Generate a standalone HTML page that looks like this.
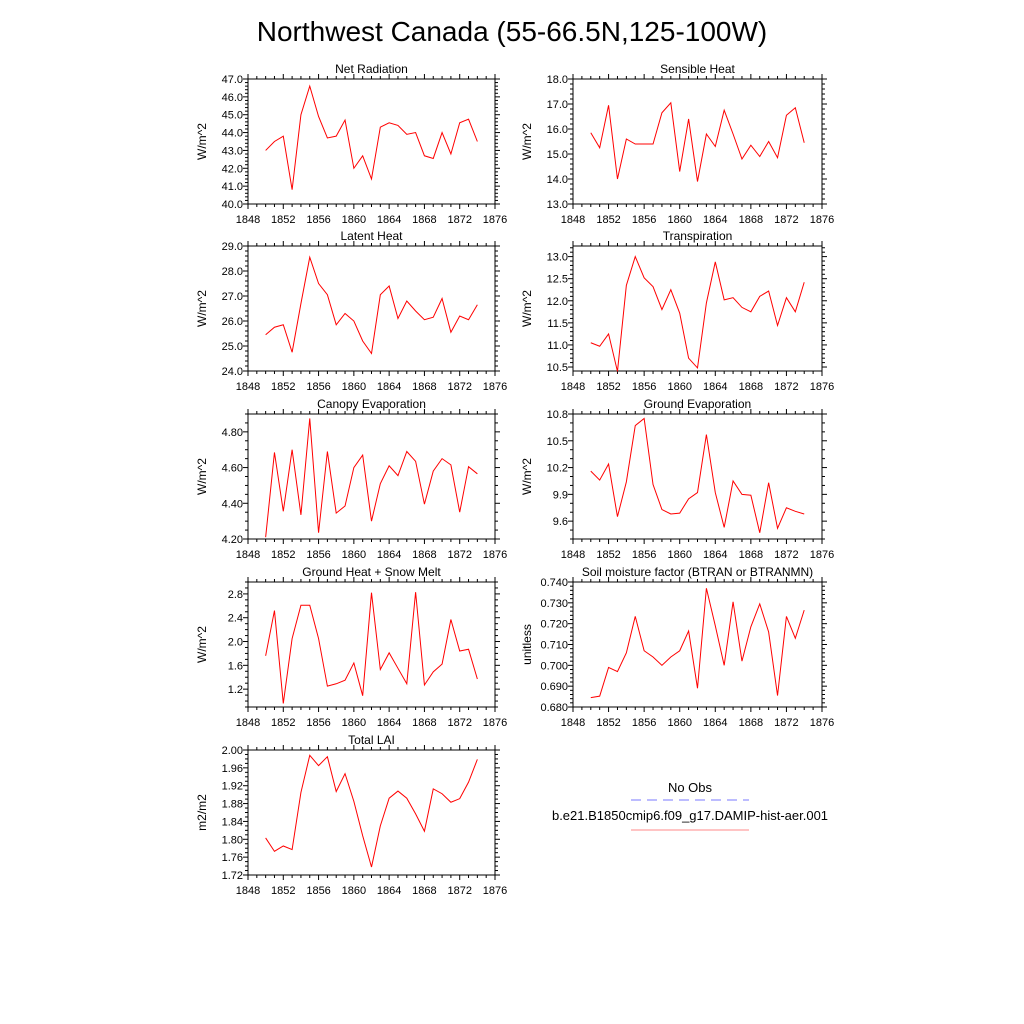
<!DOCTYPE html>
<html><head><meta charset="utf-8"><style>
body{margin:0;background:#fff;}
svg{display:block;font-family:"Liberation Sans",sans-serif;}
</style></head><body>
<svg id="fig" width="1024" height="1024" viewBox="0 0 1024 1024">
<rect width="1024" height="1024" fill="#fff"/>
<text x="512" y="41" font-size="28" text-anchor="middle">Northwest Canada (55-66.5N,125-100W)</text>
<g>
<text x="690" y="792" font-size="13" text-anchor="middle">No Obs</text>
<line x1="631" y1="800" x2="749" y2="800" stroke="#7a7aff" stroke-width="1" stroke-dasharray="10,6"/>
<text x="690" y="820" font-size="13" text-anchor="middle">b.e21.B1850cmip6.f09_g17.DAMIP-hist-aer.001</text>
<line x1="631" y1="830" x2="749" y2="830" stroke="#f88" stroke-width="1"/>
</g>
</svg>
<script>
const years = [1850,1851,1852,1853,1854,1855,1856,1857,1858,1859,1860,1861,1862,1863,1864,1865,1866,1867,1868,1869,1870,1871,1872,1873,1874];
const xTicks = [1848,1852,1856,1860,1864,1868,1872,1876];
const netRad = [43.0,43.5,43.8,40.8,45.0,46.6,44.9,43.7,43.8,44.7,42.0,42.7,41.4,44.3,44.55,44.4,43.9,44.0,42.7,42.55,44.0,42.8,44.55,44.75,43.5];
const sensible = [15.85,15.25,16.95,14.0,15.6,15.4,15.4,15.4,16.65,17.05,14.3,16.4,13.9,15.8,15.3,16.75,15.8,14.8,15.35,14.9,15.5,14.85,16.55,16.85,15.45];
const latent = [25.45,25.75,25.85,24.75,26.7,28.55,27.5,27.05,25.85,26.3,26.0,25.2,24.7,27.05,27.4,26.1,26.8,26.4,26.05,26.15,26.9,25.55,26.2,26.05,26.65];
const transp = [11.05,10.97,11.25,10.4,12.35,13.0,12.52,12.32,11.8,12.25,11.72,10.7,10.48,11.95,12.88,12.02,12.07,11.85,11.75,12.1,12.22,11.44,12.07,11.75,12.42];
const canopy = [4.21,4.685,4.355,4.70,4.335,4.875,4.235,4.69,4.345,4.385,4.60,4.67,4.30,4.51,4.61,4.555,4.69,4.635,4.395,4.58,4.65,4.615,4.35,4.605,4.565];
const groundEvap = [10.16,10.06,10.24,9.65,10.04,10.67,10.75,10.01,9.73,9.68,9.69,9.85,9.92,10.57,9.92,9.53,10.05,9.9,9.89,9.47,10.03,9.52,9.75,9.71,9.68];
const groundHeat = [1.76,2.52,0.96,2.05,2.61,2.61,2.05,1.25,1.29,1.35,1.64,1.09,2.82,1.53,1.81,1.55,1.29,2.83,1.27,1.49,1.62,2.37,1.84,1.87,1.37];
const soil = [0.6845,0.6852,0.699,0.697,0.706,0.7235,0.707,0.704,0.700,0.704,0.707,0.7165,0.689,0.737,0.719,0.700,0.7305,0.702,0.7185,0.7295,0.716,0.6855,0.7235,0.713,0.7265];
const lai = [1.803,1.773,1.785,1.777,1.905,1.988,1.965,1.985,1.907,1.947,1.885,1.808,1.738,1.830,1.892,1.908,1.892,1.857,1.818,1.913,1.902,1.883,1.891,1.928,1.979];
const netRadTicks = [40,41,42,43,44,45,46,47];
const sensTicks = [13,14,15,16,17,18];
const latTicks = [24,25,26,27,28,29];
const trTicks = [10.5,11,11.5,12,12.5,13];
const canTicks = [4.2,4.4,4.6,4.8];
const geTicks = [9.6,9.9,10.2,10.5,10.8];
const ghTicks = [1.2,1.6,2.0,2.4,2.8];
const soilTicks = [0.68,0.69,0.70,0.71,0.72,0.73,0.74];
const laiTicks = [1.72,1.76,1.80,1.84,1.88,1.92,1.96,2.00];

const NS='http://www.w3.org/2000/svg';
const fig=document.getElementById('fig');
function mk(tag,attrs,parent){const e=document.createElementNS(NS,tag);for(const k in attrs)e.setAttribute(k,attrs[k]);parent.appendChild(e);return e;}

const panels=[
 {name:'net-radiation',title:'Net Radiation',unit:'W/m^2',col:0,row:0,data:netRad,ticks:netRadTicks,ymin:40,ymax:47,minor:0.2,dec:1},
 {name:'sensible-heat',title:'Sensible Heat',unit:'W/m^2',col:1,row:0,data:sensible,ticks:sensTicks,ymin:13,ymax:18,minor:0.2,dec:1},
 {name:'latent-heat',title:'Latent Heat',unit:'W/m^2',col:0,row:1,data:latent,ticks:latTicks,ymin:24,ymax:29,minor:0.2,dec:1},
 {name:'transpiration',title:'Transpiration',unit:'W/m^2',col:1,row:1,data:transp,ticks:trTicks,ymin:10.41,ymax:13.24,minor:0.1,dec:1},
 {name:'canopy-evaporation',title:'Canopy Evaporation',unit:'W/m^2',col:0,row:2,data:canopy,ticks:canTicks,ymin:4.2,ymax:4.9,minor:0.05,dec:2},
 {name:'ground-evaporation',title:'Ground Evaporation',unit:'W/m^2',col:1,row:2,data:groundEvap,ticks:geTicks,ymin:9.4,ymax:10.8,minor:0.1,dec:1},
 {name:'ground-heat-snow-melt',title:'Ground Heat + Snow Melt',unit:'W/m^2',col:0,row:3,data:groundHeat,ticks:ghTicks,ymin:0.9,ymax:3.0,minor:0.1,dec:1},
 {name:'soil-moisture-factor',title:'Soil moisture factor (BTRAN or BTRANMN)',unit:'unitless',col:1,row:3,data:soil,ticks:soilTicks,ymin:0.68,ymax:0.74,minor:0.002,dec:3},
 {name:'total-lai',title:'Total LAI',unit:'m2/m2',col:0,row:4,data:lai,ticks:laiTicks,ymin:1.72,ymax:2.0,minor:0.01,dec:2}
];
const colX=[[248,495],[573,822]];
const rowY=[79,246,414,582,750];
const H=125;

panels.forEach(p=>{
 const x0=colX[p.col][0],x1=colX[p.col][1],y0=rowY[p.row],y1=y0+H;
 const xs=v=>x0+(v-1848)/(1876-1848)*(x1-x0);
 const ys=v=>y1-(v-p.ymin)/(p.ymax-p.ymin)*H;
 const g=mk('g',{},fig);
 
 
 const t=mk('text',{x:(x0+x1)/2,y:y0-6,'font-size':12,'text-anchor':'middle'},g);
 
 
 t.textContent=p.title;
 const yl=mk('text',{x:0,y:0,'font-size':12,'text-anchor':'middle',transform:`translate(${x0-42},${(y0+y1)/2}) rotate(-90)`},g);
 
 
 yl.textContent=p.unit;
 // ticks
 const tk=mk('g',{stroke:'#000','stroke-width':1},g);
 
 
 for(let yr=1848;yr<=1876;yr++){
  const x=xs(yr),maj=(yr%4===0),L=maj?5:3;
  mk('line',{x1:x,y1:y1,x2:x,y2:y1+L},tk);
  mk('line',{x1:x,y1:y0,x2:x,y2:y0-L},tk);
 }
 xTicks.forEach(v=>{
  const lt=mk('text',{x:xs(v),y:y1+19,'font-size':11,'text-anchor':'middle',stroke:'none'},g);
  
  
  lt.textContent=v;
 });
 const n0=Math.ceil(p.ymin/p.minor-1e-6),n1=Math.floor(p.ymax/p.minor+1e-6);
 for(let i=n0;i<=n1;i++){
  const v=i*p.minor,y=ys(v);
  const maj=p.ticks.some(tv=>Math.abs(tv-v)<p.minor/10);
  const L=maj?5:3;
  mk('line',{x1:x0,y1:y,x2:x0-L,y2:y},tk);
  mk('line',{x1:x1,y1:y,x2:x1+L,y2:y},tk);
 }
 p.ticks.forEach(v=>{
  const lt=mk('text',{x:x0-5,y:ys(v)+4,'font-size':11,'text-anchor':'end'},g);
  
  
  lt.textContent=v.toFixed(p.dec);
 });
 const fr=mk('rect',{x:x0,y:y0,width:x1-x0,height:H,fill:'none',stroke:'#000','stroke-width':1},g);
 
 
 const pts=p.data.map((v,i)=>xs(years[i]).toFixed(2)+','+ys(v).toFixed(2)).join(' ');
 const pl=mk('polyline',{points:pts,fill:'none',stroke:'#f00','stroke-width':1},g);
 
 
});
</script>
</body></html>
